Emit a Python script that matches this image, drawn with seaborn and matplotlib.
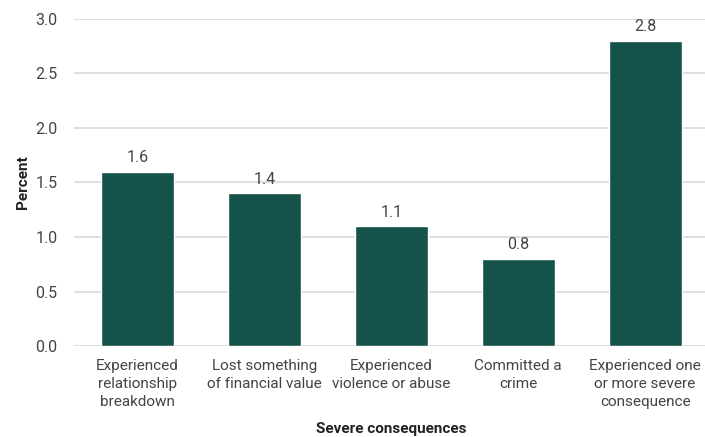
import matplotlib
matplotlib.use('Agg')
import matplotlib.pyplot as plt
import seaborn as sns
import pandas as pd

# data
categories = ['Experienced\nrelationship\nbreakdown', 'Lost something\nof financial value',
              'Experienced\nviolence or abuse', 'Committed a\ncrime',
              'Experienced one\nor more severe\nconsequence']
percent = [1.6, 1.4, 1.1, 0.8, 2.8]
yticks = [0.0, 0.5, 1.0, 1.5, 2.0, 2.5, 3.0]

df = pd.DataFrame({'cat': categories, 'pct': percent})

sns.set_style('white')
plt.rcParams['font.family'] = ['Roboto', 'DejaVu Sans']

fig = plt.figure(figsize=(7.05, 4.37), dpi=100)
ax = fig.add_axes([0.105, 0.208, 0.9, 0.749])

sns.barplot(data=df, x='cat', y='pct', color='#14524a', width=0.575, saturation=1, ax=ax, zorder=3)

ax.set_ylim(0, 3.0)
ax.set_yticks(yticks)
ax.set_yticklabels([f'{v:.1f}' for v in yticks])
ax.yaxis.grid(True, color='#d9d9d9', linewidth=1.2, zorder=0)
ax.set_axisbelow(True)
for s in ax.spines.values():
    s.set_visible(False)
ax.tick_params(axis='y', length=0, labelsize=11.5, labelcolor='#444444', pad=12)
ax.tick_params(axis='x', length=0, labelsize=11, labelcolor='#444444', pad=9)
for lbl in ax.get_xticklabels():
    lbl.set_linespacing(1.4)

for p, v in zip(ax.patches, percent):
    ax.text(p.get_x() + p.get_width() / 2, v + 0.06, f'{v:.1f}', ha='center', va='bottom',
            fontsize=11.5, color='#444444')

ax.set_xlabel('Severe consequences', fontsize=11, fontweight='bold', color='#222222', labelpad=9)
ax.set_ylabel('Percent', fontsize=11, fontweight='bold', color='#222222', labelpad=4)

fig.savefig('out.png', dpi=100)
